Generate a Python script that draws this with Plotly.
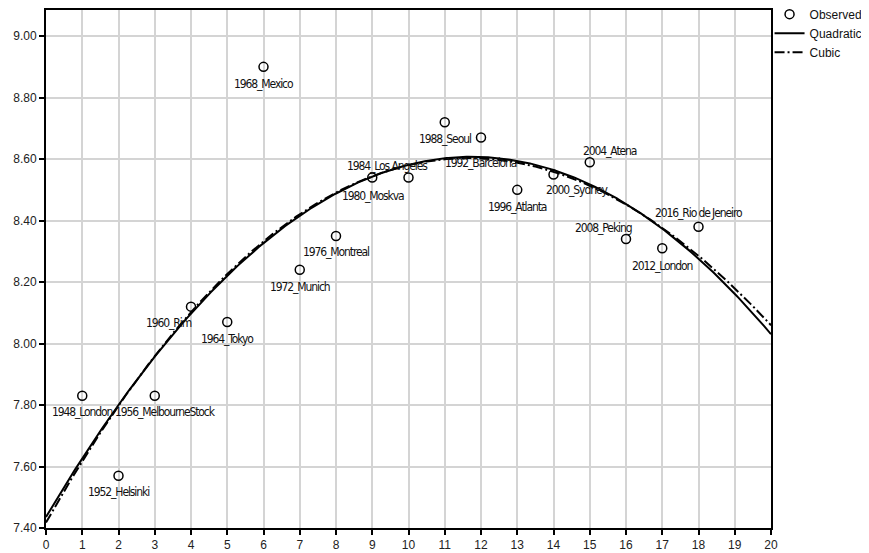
import numpy as np
import plotly.graph_objects as go

# Observed data (index 1..18 = Olympic games since 1948)
games_index = [1, 2, 3, 4, 5, 6, 7, 8, 9, 10, 11, 12, 13, 14, 15, 16, 17, 18]
distance = [7.83, 7.57, 7.83, 8.12, 8.07, 8.90, 8.24, 8.35, 8.54, 8.54,
            8.72, 8.67, 8.50, 8.55, 8.59, 8.34, 8.31, 8.38]
games_labels = ["1948_London", "1952_Helsinki", "1956_MelbourneStock", "1960_Rim",
                "1964_Tokyo", "1968_Mexico", "1972_Munich", "1976_Montreal",
                "1980_Moskva", "1984_Los Angeles", "1988_Seoul", "1992_Barcelona",
                "1996_Atlanta", "2000_Sydney", "2004_Atena", "2008_Peking",
                "2012_London", "2016_Rio de Jeneiro"]

# label offsets in pixels (style only)
label_shift = [(0, -16), (0, -16), (11, -16), (-22, -16), (0, -17), (0, -17),
               (0, -17), (0, -16), (1, -18), (-21, 12), (0, -17), (0, -25),
               (0, -17), (23, -16), (20, 11), (-23, 11), (0, -18), (0, 14)]

# Regression curves fitted to the observed data
x_fit = np.linspace(0, 20, 401)
quad = np.polyval(np.polyfit(games_index, distance, 2), x_fit)
cubic = np.polyval(np.polyfit(games_index, distance, 3), x_fit)

fig = go.Figure()
fig.add_trace(go.Scatter(
    x=games_index, y=distance, mode="markers", name="Observed",
    marker=dict(symbol="circle-open", size=9, color="black", line=dict(width=1.5)),
))
fig.add_trace(go.Scatter(
    x=x_fit, y=quad, mode="lines", name="Quadratic",
    line=dict(color="black", width=2),
))
fig.add_trace(go.Scatter(
    x=x_fit, y=cubic, mode="lines", name="Cubic",
    line=dict(color="black", width=2, dash="10px,3px,2px,3px"),
))

label_style = "font-family:DejaVu Sans;font-stretch:condensed;letter-spacing:-1.1px"
label_font = dict(family="DejaVu Sans, sans-serif", size=12, color="#111")
for xi, yi, txt, (dx, dy) in zip(games_index, distance, games_labels, label_shift):
    fig.add_annotation(x=xi, y=yi, text=f'<span style="{label_style}">{txt}</span>',
                       showarrow=False, xshift=dx, yshift=dy, font=label_font)

axis_common = dict(
    showline=True, linecolor="black", linewidth=2, mirror=True,
    showgrid=True, gridcolor="#d4d4d4", gridwidth=1.5,
    ticks="outside", ticklen=5, tickwidth=1.5, tickcolor="black",
    tickfont=dict(family="Liberation Sans, Arial, sans-serif", size=12, color="#222"),
    zeroline=False, automargin=False,
)

fig.update_layout(
    width=861, height=545,
    margin=dict(l=38, r=98, t=2, b=25, autoexpand=False),
    paper_bgcolor="white", plot_bgcolor="white",
    xaxis=dict(range=[0, 20], tick0=0, dtick=1, **axis_common),
    yaxis=dict(range=[7.40, 9.085], tick0=7.4, dtick=0.2, tickformat=".2f", **axis_common),
    legend=dict(x=0.998, y=1.02, xanchor="left", yanchor="top",
                font=dict(family="Liberation Sans, Arial, sans-serif", size=12, color="#111"),
                bgcolor="rgba(0,0,0,0)", tracegroupgap=0),
    showlegend=True,
)

fig.write_html("out.html")
